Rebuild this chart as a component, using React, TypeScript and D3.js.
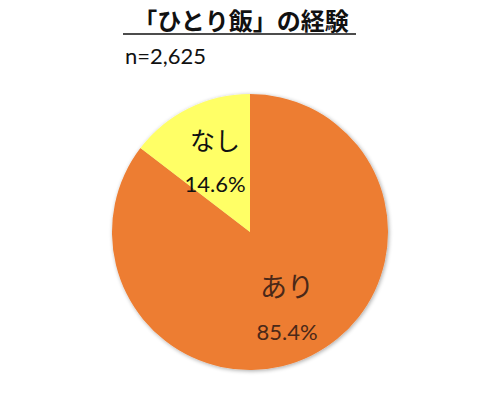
import React from "react";
import * as d3 from "d3";

const categories = ["あり", "なし"];
const values = [85.4, 14.6];
const valueLabels = ["85.4%", "14.6%"];
const colors = ["#ED7D31", "#FFFF66"];
const title = "「ひとり飯」の経験";
const sampleLabel = "n=2,625";

const W = 500;
const H = 401;
const cx = 250;
const cy = 232;
const R = 138;

export default function App() {
  const data = categories.map((c, i) => ({ c, v: values[i], label: valueLabels[i], color: colors[i] }));
  const pie = d3.pie<any>().value((d) => d.v).sort(null);
  const arcs = pie(data);
  const arc = d3.arc<any>().innerRadius(0).outerRadius(R);
  const font = "'Noto Sans CJK JP', 'Noto Sans', sans-serif";
  const numFont = "Lato, 'Open Sans', sans-serif";
  return (
    <svg width={W} height={H} style={{ position: "absolute", left: 0, top: 0 }}>
      <defs>
        <filter id="sh" x="-10%" y="-10%" width="120%" height="120%">
          <feGaussianBlur in="SourceAlpha" stdDeviation="2" />
          <feOffset dx="1" dy="1" result="b" />
          <feComponentTransfer><feFuncA type="linear" slope="0.35" /></feComponentTransfer>
          <feMerge><feMergeNode /><feMergeNode in="SourceGraphic" /></feMerge>
        </filter>
      </defs>
      <rect width={W} height={H} fill="#fff" />
      <text x={241} y={30} textAnchor="middle" fontFamily={font} fontWeight="bold" fontSize={24} fill="#111">{title}</text>
      <line x1={123} x2={356} y1={34} y2={34} stroke="#111" strokeWidth={1.5} />
      <text x={125} y={64} fontFamily={numFont} fontSize={22} fill="#111">{sampleLabel}</text>
      <g transform={`translate(${cx},${cy})`} filter="url(#sh)">
        {arcs.map((a, i) => (
          <path key={i} d={arc(a) as string} fill={a.data.color} />
        ))}
      </g>
      <g transform={`translate(${cx},${cy})`}>
        {arcs.map((a, i) => {
          const isBig = i === 0;
          const lx = isBig ? 37 : -35;
          const ly = isBig ? 65 : -82;
          return (
            <g key={i}>
              <text x={lx} y={ly} textAnchor="middle" fontFamily={font} fontSize={isBig ? 27 : 25} fill={isBig ? "#4a2818" : "#111"}>{a.data.c}</text>
              <text x={lx} y={ly + (isBig ? 43 : 42)} textAnchor="middle" fontFamily={numFont} fontSize={22} fill={isBig ? "#4a2818" : "#111"}>{a.data.label}</text>
            </g>
          );
        })}
      </g>
    </svg>
  );
}
